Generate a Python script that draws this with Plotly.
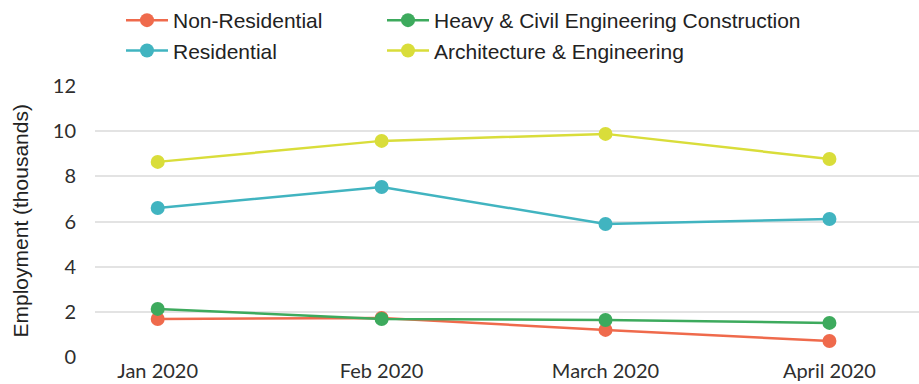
import plotly.graph_objects as go

# ── Data (employment, thousands) ─────────────────────────────────────────────
months = ["Jan 2020", "Feb 2020", "March 2020", "April 2020"]
non_residential = [1.68, 1.73, 1.20, 0.71]
residential = [6.60, 7.53, 5.89, 6.11]
heavy_civil = [2.13, 1.68, 1.64, 1.51]
architecture = [8.64, 9.57, 9.88, 8.77]

y_ticks = [0, 2, 4, 6, 8, 10, 12]

_COLORS = {
    "orange": "#EF6A4C",
    "teal": "#41B4C0",
    "green": "#3DAA5D",
    "yellow": "#D9DD3A",
    "grid": "#E3E3E3",
    "text": "#2E2E2E",
}

series = [
    ("Non-Residential", non_residential, _COLORS["orange"], "legend"),
    ("Heavy & Civil Engineering Construction", heavy_civil, _COLORS["green"], "legend2"),
    ("Residential", residential, _COLORS["teal"], "legend"),
    ("Architecture & Engineering", architecture, _COLORS["yellow"], "legend2"),
]

fig = go.Figure()
for name, vals, color, leg in series:
    fig.add_trace(go.Scatter(
        x=months, y=vals,
        mode="lines+markers",
        name=name,
        legend=leg,
        line=dict(color=color, width=2.5),
        marker=dict(color=color, size=14),
    ))

legend_font = dict(family="Liberation Sans, Arial, sans-serif", size=21, color="#222222")
common_legend = dict(
    orientation="v", xref="container", yref="container",
    xanchor="left", yanchor="top", y=1.0,
    font=legend_font, itemwidth=42, bgcolor="rgba(0,0,0,0)",
    tracegroupgap=0,
)

fig.update_layout(
    width=919, height=384,
    paper_bgcolor="white",
    plot_bgcolor="white",
    margin=dict(l=95, r=0, t=86, b=27, autoexpand=False),
    showlegend=True,
    legend=dict(x=121 / 919, **common_legend),
    legend2=dict(x=382 / 919, **common_legend),
    xaxis=dict(
        type="category",
        range=[-0.28, 3.4],
        showgrid=False,
        showline=False,
        zeroline=False,
        tickfont=dict(family="Lato, sans-serif", size=20, color=_COLORS["text"]),
        ticks="",
    ),
    yaxis=dict(
        range=[0, 12],
        tickvals=y_ticks,
        gridcolor=_COLORS["grid"],
        gridwidth=1.5,
        zeroline=False,
        showline=False,
        ticks="",
        ticklabelstandoff=18,
        tickfont=dict(family="Lato, sans-serif", size=20, color=_COLORS["text"]),
    ),
    annotations=[dict(
        text="Employment (thousands)",
        xref="paper", yref="paper",
        x=-95 / 824, y=0.5, xshift=20,
        xanchor="center", yanchor="middle",
        textangle=-90, showarrow=False,
        font=dict(family="Liberation Sans, Arial, sans-serif", size=21, color="#222222"),
    )],
)

# the page's default body margin would shift the figure, so drop it
fig.write_html(
    "out.html",
    config={"displayModeBar": False},
    post_script="document.body.style.margin='0';",
)
